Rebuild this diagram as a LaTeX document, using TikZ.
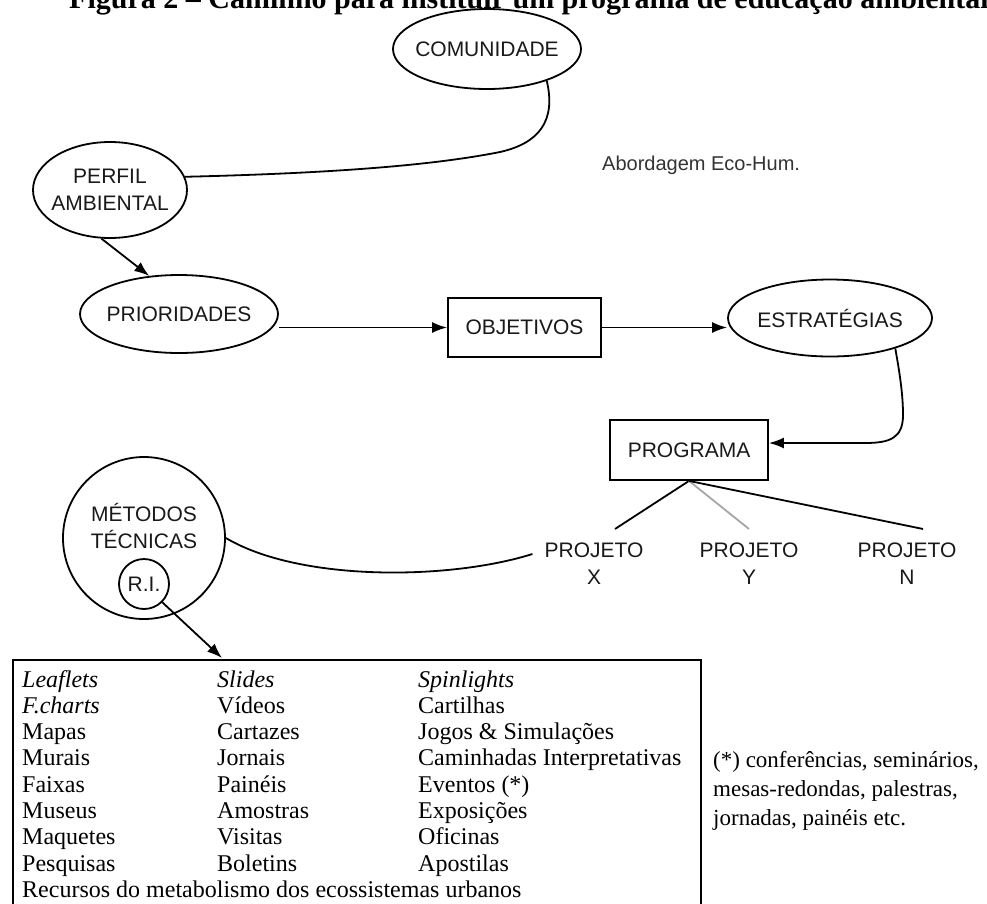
\documentclass[tikz,border=0pt]{standalone}
\usepackage{fontspec}
\setmainfont{Liberation Serif}
\newfontfamily\labfont{Liberation Sans}
\usetikzlibrary{shapes.geometric,arrows.meta,calc}
\tikzset{
  lbl/.style={font=\labfont\fontsize{21}{27}\selectfont, align=center, inner sep=0pt, text=black!90},
  ell/.style={lbl, draw, ellipse, line width=1.8pt, inner xsep=-30pt, inner ysep=-5pt},
  rbox/.style={lbl, draw, rectangle, line width=1.8pt},
  circ/.style={lbl, draw, circle, line width=1.8pt},
  conn/.style={line width=1.8pt},
  arr/.style={conn, -{Latex[length=15pt,width=11pt]}},
  ptxt/.style={lbl, inner ysep=14pt},
}
\begin{document}
\begin{tikzpicture}[x=1pt,y=-1pt]
\useasboundingbox (0,0) rectangle (987,903);
\clip (0,0) rectangle (987,903);
\fill[white] (0,0) rectangle (987,903);

% title (cut off at the top edge, as in the reference)
\node[anchor=base west, inner sep=0pt, font=\bfseries\fontsize{30}{32}\selectfont] (title) at (69,8)
  {Figura 2 – Caminho para instituir um programa de educação ambiental};

% nodes
\node[ell, minimum width=188pt, minimum height=80pt] (com) at (487,49) {COMUNIDADE};
\node[ell, minimum width=154pt, minimum height=96pt] (perfil) at (110,190) {PERFIL\\AMBIENTAL};
\node[ell, minimum width=198pt, minimum height=78pt] (prior) at (179,314) {PRIORIDADES};
\node[rbox, minimum width=153pt, minimum height=59pt] (obj) at (524.5,327.5) {OBJETIVOS};
\node[ell, minimum width=204pt, minimum height=77pt] (estr) at (830,318) {ESTRATÉGIAS};
\node[rbox, minimum width=158pt, minimum height=60pt] (prog) at (689,450) {PROGRAMA};
\node[ptxt] (projX) at (594,564) {PROJETO\\X};
\node[ptxt] (projY) at (749,564) {PROJETO\\Y};
\node[ptxt] (projN) at (907,564) {PROJETO\\N};
\node[circ, minimum size=162pt] (met) at (144,538) {};
\node[lbl] (mettxt) at (144,526) {MÉTODOS\\TÉCNICAS};
\node[circ, minimum size=50pt] (ri) at (144,584) {R.I.};
\node[lbl, anchor=west, font=\labfont\fontsize{20}{24}\selectfont, text=black!80] (abord) at (602,165) {Abordagem Eco-Hum.};

% list box
\node[draw, line width=1.8pt, anchor=north west, minimum width=688pt, minimum height=300pt, inner sep=0pt] (box) at (12,659) {};
\coordinate (bt) at (222,658);
\node[anchor=base west, inner sep=0pt, font=\fontsize{24}{26.3}\selectfont] (list) at (22,687) {%
\begin{tabular}[t]{@{}p{195pt}@{}p{201pt}@{}l@{}}
\textit{Leaflets} & \textit{Slides} & \textit{Spinlights}\\
\textit{F.charts} & Vídeos & Cartilhas\\
Mapas & Cartazes & Jogos \& Simulações\\
Murais & Jornais & Caminhadas Interpretativas\\
Faixas & Painéis & Eventos (*)\\
Museus & Amostras & Exposições\\
Maquetes & Visitas & Oficinas\\
Pesquisas & Boletins & Apostilas\\
\multicolumn{3}{@{}l@{}}{Recursos do metabolismo dos ecossistemas urbanos}
\end{tabular}};

% footnote
\node[anchor=base west, inner sep=0pt, font=\fontsize{23}{29}\selectfont] (note) at (713,767) {%
\begin{tabular}[t]{@{}l@{}}
(*) conferências, seminários,\\
mesas-redondas, palestras,\\
jornadas, painéis etc.
\end{tabular}};

% connectors
\draw[conn] (com.-28) .. controls (556,120) and (540,143) .. (500,152)
  .. controls (420,168) and (300,174) .. (perfil.10);
\draw[arr] (perfil.-100) -- (prior.128);
\draw[arr] (prior.east |- obj.west) -- (obj.west);
\draw[arr] (obj.east) -- (obj.east -| estr.west);
\draw[arr] (estr.-25) .. controls (900,375) and (903,395) .. (903,415)
  .. controls (903,438) and (890,443) .. (865,443) -- (prog.5);
\draw[conn] (prog.south) -- ($(projX.north)+(21,0)$);
\draw[conn, gray!70] (prog.south) -- (projY.north);
\draw[conn] (prog.south) -- ($(projN.north)+(16,0)$);
\draw[conn] (met.east) .. controls (300,582) and (450,580) .. ($(projX.west)+(-12,-10)$);
\draw[arr] (ri.-45) -- (bt);
\end{tikzpicture}
\end{document}
